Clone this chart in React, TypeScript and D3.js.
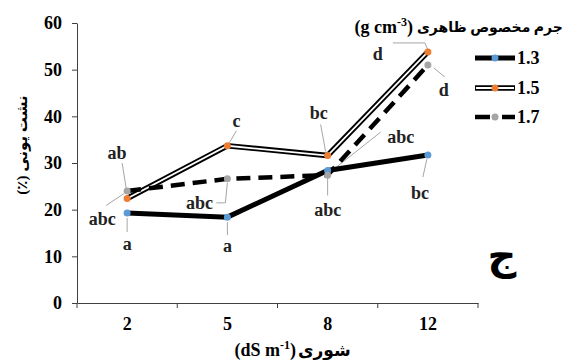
import React, { useRef, useEffect } from "react";
import * as d3 from "d3";

// salinity levels (dS m-1)
const categories = ["2", "5", "8", "12"];
// bulk density series (g cm-3)
const seriesNames = ["1.3", "1.5", "1.7"];
const values13 = [19.3, 18.4, 28.4, 31.7];
const values15 = [22.4, 33.7, 31.6, 53.8];
const values17 = [24.0, 26.6, 27.4, 51.0];
const yTicks = [0, 10, 20, 30, 40, 50, 60];

// significance letters: [series index, category index, text]
const letters: [number, number, string][] = [
  [0, 0, "a"],
  [0, 1, "a"],
  [0, 2, "abc"],
  [0, 3, "bc"],
  [1, 0, "abc"],
  [1, 1, "c"],
  [1, 2, "bc"],
  [1, 3, "d"],
  [2, 0, "ab"],
  [2, 1, "abc"],
  [2, 2, "abc"],
  [2, 3, "d"],
];

// label placement relative to its point: label dx, dy and leader polyline
const letterPlacement = [
  { dx: 0, dy: 31, leader: [[0, 5], [0, 19]] },
  { dx: 0, dy: 29, leader: [[0, 5], [0, 18]] },
  { dx: 0, dy: 39, leader: [[0, 7], [0, 25]] },
  { dx: -8, dy: 38, leader: [[-1, 4], [-5, 22]] },
  { dx: -25, dy: 20, leader: [[-21, 7], [-3, -5]] },
  { dx: 9, dy: -25, leader: [[9, -15], [2, -3]] },
  { dx: -9, dy: -43, leader: [[-7, -31], [-2, -4]] },
  { dx: -50, dy: 2, leader: [[-35, -9], [-3, -9], [0, -2]] },
  { dx: -10, dy: -38, leader: [[-5, -28], [-1, -3]] },
  { dx: -28, dy: 24, leader: [[-11, 24], [-2, 24], [0, 4]] },
  { dx: 73, dy: -38, leader: [[53, -43], [5, -5]] },
  { dx: 16, dy: 25, leader: [[6, 3], [17, 12]] },
];

const W = 568;
const H = 363;
const plot = { left: 77, right: 478, top: 23, bottom: 303 };
const serif = "'Liberation Serif', 'Times New Roman', 'DejaVu Sans', serif";

const markerColors = ["#5B9BD5", "#ED7D31", "#A5A5A5"];

export default function App() {
  const xAxisRef = useRef<SVGGElement>(null);
  const yAxisRef = useRef<SVGGElement>(null);

  const xScale = d3
    .scaleBand()
    .domain(categories)
    .range([plot.left, plot.right])
    .padding(0);
  const yScale = d3
    .scaleLinear()
    .domain([0, 60])
    .range([plot.bottom, plot.top]);

  const cx = (c: string) => (xScale(c) as number) + xScale.bandwidth() / 2;

  const allSeries = [values13, values15, values17];
  const points = allSeries.map((vals) =>
    vals.map((v, i) => [cx(categories[i]), yScale(v)] as [number, number])
  );

  const line = d3.line();

  useEffect(() => {
    if (yAxisRef.current) {
      const g = d3.select(yAxisRef.current);
      g.call(
        d3
          .axisLeft(yScale)
          .tickValues(yTicks)
          .tickSize(5)
          .tickSizeOuter(0)
          .tickPadding(10)
      );
      g.selectAll("path,line").attr("stroke", "#404040");
      g.selectAll("text")
        .attr("font-family", serif)
        .attr("font-size", 18)
        .attr("font-weight", "bold")
        .attr("fill", "#000");
    }
    if (xAxisRef.current) {
      const g = d3.select(xAxisRef.current);
      g.call(d3.axisBottom(xScale).tickSize(0).tickSizeOuter(0).tickPadding(14));
      g.selectAll("path").attr("stroke", "#404040");
      g.selectAll("text")
        .attr("font-family", serif)
        .attr("font-size", 18)
        .attr("font-weight", "bold")
        .attr("fill", "#000");
    }
  }, []);

  // boundary tick marks on the category axis
  const boundaries = categories
    .map((c) => xScale(c) as number)
    .concat([plot.right]);

  const legendX = 475;
  const legendRows = [58, 88, 117];

  return (
    <svg
      width={W}
      height={H}
      style={{ position: "absolute", left: 0, top: 0, background: "#fff" }}
    >
      <g ref={yAxisRef} transform={`translate(${plot.left},0)`} />
      <g ref={xAxisRef} transform={`translate(0,${plot.bottom})`} />
      {boundaries.map((b, i) => (
        <line
          key={i}
          x1={b}
          x2={b}
          y1={plot.bottom}
          y2={plot.bottom + 5}
          stroke="#404040"
        />
      ))}

      {/* leader lines + letters */}
      {letters.map(([s, c, t], i) => {
        const [px, py] = points[s][c];
        const p = letterPlacement[i];
        const pts = p.leader.map(([dx, dy]) => [px + dx, py + dy] as [number, number]);
        return (
          <g key={i}>
            <path d={line(pts) || ""} fill="none" stroke="#A6A6A6" strokeWidth={1} />
            <text
              x={px + p.dx}
              y={py + p.dy}
              dy="0.35em"
              textAnchor="middle"
              fontFamily={serif}
              fontWeight="bold"
              fontSize={18}
              fill="#222"
            >
              {t}
            </text>
          </g>
        );
      })}

      {/* 1.3 solid */}
      <path d={line(points[0]) || ""} fill="none" stroke="#000" strokeWidth={5} />
      {/* 1.5 double line */}
      <path d={line(points[1]) || ""} fill="none" stroke="#000" strokeWidth={5.5} />
      <path d={line(points[1]) || ""} fill="none" stroke="#fff" strokeWidth={1.8} />
      {/* 1.7 dashed */}
      <path
        d={line(points[2]) || ""}
        fill="none"
        stroke="#000"
        strokeWidth={4.5}
        strokeDasharray="14,8"
      />
      {points.map((ser, s) =>
        ser.map(([x, y], i) => (
          <circle key={`${s}-${i}`} cx={x} cy={y} r={3.5} fill={markerColors[s]} />
        ))
      )}

      {/* legend */}
      <text
        x={413}
        y={27}
        dy="0.35em"
        textAnchor="end"
        fontFamily={serif}
        fontWeight="bold"
        fontSize={18}
      >
        <tspan>(g cm</tspan>
        <tspan dy="-7" fontSize={12}>-3</tspan>
        <tspan dy="7">)</tspan>
      </text>
      <text
        x={417}
        y={27}
        dy="0.35em"
        textAnchor="start"
        fontFamily={serif}
        fontWeight="bold"
        fontSize={14}
      >
        جرم مخصوص ظاهری
      </text>
      {seriesNames.map((name, s) => {
        const y = legendRows[s];
        return (
          <g key={name}>
            {s === 0 && (
              <line x1={legendX} x2={legendX + 40} y1={y} y2={y} stroke="#000" strokeWidth={5} />
            )}
            {s === 1 && (
              <>
                <line x1={legendX} x2={legendX + 40} y1={y} y2={y} stroke="#000" strokeWidth={5.5} />
                <line x1={legendX + 1} x2={legendX + 39} y1={y} y2={y} stroke="#fff" strokeWidth={1.8} />
              </>
            )}
            {s === 2 && (
              <line
                x1={legendX}
                x2={legendX + 40}
                y1={y}
                y2={y}
                stroke="#000"
                strokeWidth={4.5}
                strokeDasharray="15,12"
              />
            )}
            <circle cx={legendX + 20} cy={y} r={3.5} fill={markerColors[s]} />
            <text
              x={legendX + 42}
              y={y}
              dy="0.35em"
              fontFamily={serif}
              fontWeight="bold"
              fontSize={18}
            >
              {name}
            </text>
          </g>
        );
      })}

      {/* y title */}
      <text
        transform="translate(22,145) rotate(-90)"
        textAnchor="middle"
        dy="0.35em"
        fontFamily={serif}
        fontWeight="bold"
        fontSize={15}
        style={{ direction: "rtl", unicodeBidi: "plaintext" } as any}
      >
        نشت یونی (٪)
      </text>

      {/* x title */}
      <text
        x={296}
        y={350}
        dy="0.35em"
        textAnchor="end"
        fontFamily={serif}
        fontWeight="bold"
        fontSize={18}
      >
        <tspan>(dS m</tspan>
        <tspan dy="-7" fontSize={12}>-1</tspan>
        <tspan dy="7">)</tspan>
      </text>
      <text
        x={298}
        y={350}
        dy="0.35em"
        textAnchor="start"
        fontFamily={serif}
        fontWeight="bold"
        fontSize={17}
      >
        شوری
      </text>

      {/* panel letter */}
      <text
        x={502}
        y={255}
        dy="0.35em"
        textAnchor="middle"
        fontFamily={serif}
        fontWeight="bold"
        fontSize={40}
      >
        ج
      </text>
    </svg>
  );
}
